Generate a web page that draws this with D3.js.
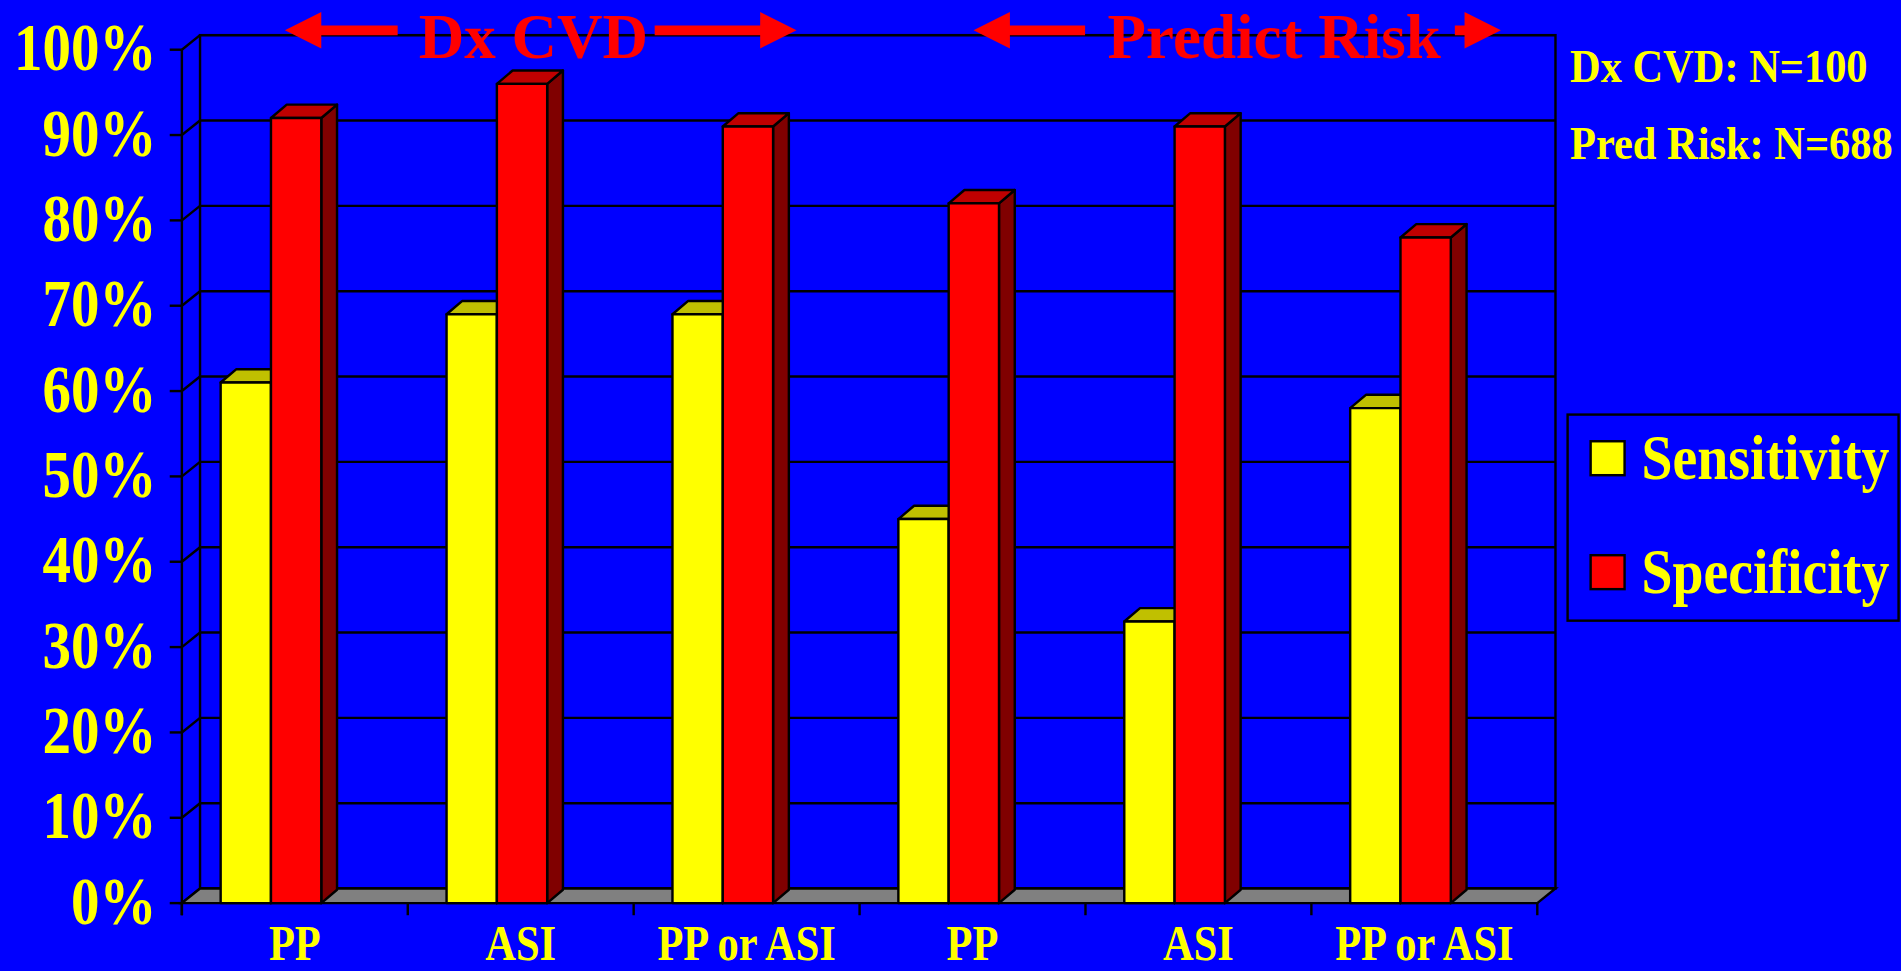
<!DOCTYPE html>
<html>
<head>
<meta charset="utf-8">
<script src="https://cdn.jsdelivr.net/npm/d3@7"></script>
<style>
  html, body {margin: 0; padding: 0; background: #0000ff; overflow: hidden;}
  svg {display: block;}
  text {font-family: "Liberation Serif", "Times New Roman", serif; font-weight: bold;}
</style>
</head>
<body>
<script>
const categories = ['PP', 'ASI', 'PP or ASI', 'PP', 'ASI', 'PP or ASI']
const sensitivity = [61, 69, 69, 45, 33, 58]
const specificity = [92, 96, 91, 82, 91, 78]
const yTicks = [0, 10, 20, 30, 40, 50, 60, 70, 80, 90, 100]
const seriesNames = ['Sensitivity', 'Specificity']
const sampleNotes = ['Dx CVD: N=100', 'Pred Risk: N=688']

// drawing is done in a 1568x801 box and stretched to the window
const W = 1568, H = 801
const svg = d3.select('body').append('svg')
  .attr('width', 1901).attr('height', 971)
  .attr('viewBox', `0 0 ${W} ${H}`)
  .attr('preserveAspectRatio', 'none')

svg.append('rect').attr('width', W).attr('height', H).attr('fill', '#0000ff')

// front plane scales, back wall is offset by (dx, dy)
const dx = 15, dy = -12
const x = d3.scaleBand().domain(d3.range(categories.length)).range([150, 1268]).padding(0)
const y = d3.scaleLinear().domain([0, 100]).range([745, 41])

const g = svg.append('g')

// back wall
g.append('rect')
  .attr('x', 150 + dx).attr('y', y(100) + dy)
  .attr('width', 1268 - 150).attr('height', y(0) - y(100))
  .attr('fill', '#0000ff').attr('stroke', '#000').attr('stroke-width', 2)

// gridlines on back wall + slanted lines on left wall
g.append('g').selectAll('line').data(yTicks).enter().append('line')
  .attr('x1', 150 + dx).attr('x2', 1268 + dx)
  .attr('y1', d => y(d) + dy).attr('y2', d => y(d) + dy)
  .attr('stroke', '#000').attr('stroke-width', 2)
g.append('g').selectAll('line').data(yTicks).enter().append('line')
  .attr('x1', 150).attr('x2', 150 + dx)
  .attr('y1', d => y(d)).attr('y2', d => y(d) + dy)
  .attr('stroke', '#000').attr('stroke-width', 2)

// floor
g.append('path')
  .attr('d', `M150,${y(0)} L1268,${y(0)} L${1268 + dx},${y(0) + dy} L${150 + dx},${y(0) + dy} Z`)
  .attr('fill', '#808080').attr('stroke', '#000').attr('stroke-width', 2)

// front y axis
g.append('line').attr('x1', 150).attr('x2', 150).attr('y1', y(100)).attr('y2', y(0) + 10)
  .attr('stroke', '#000').attr('stroke-width', 2)
g.append('g').selectAll('line').data(yTicks).enter().append('line')
  .attr('x1', 140).attr('x2', 150)
  .attr('y1', d => y(d)).attr('y2', d => y(d))
  .attr('stroke', '#000').attr('stroke-width', 2)
g.append('g').selectAll('text').data(yTicks).enter().append('text')
  .attr('transform', d => `translate(129,${y(d) + 17}) scale(1,1.2)`)
  .attr('text-anchor', 'end').attr('font-size', 47).attr('fill', '#ffff00')
  .text(d => d + '%')

// x axis ticks under the floor
const bounds = d3.range(categories.length + 1).map(i => 150 + i * x.bandwidth())
g.append('g').selectAll('line').data(bounds).enter().append('line')
  .attr('x1', d => d).attr('x2', d => d)
  .attr('y1', y(0)).attr('y2', y(0) + 10)
  .attr('stroke', '#000').attr('stroke-width', 2)
g.append('g').selectAll('text').data(categories).enter().append('text')
  .attr('transform', (d, i) => `translate(${x(i) + x.bandwidth() / 2},792) scale(1,1.2)`)
  .attr('text-anchor', 'middle').attr('font-size', 35).attr('fill', '#ffff00')
  .text(d => d)

// 3D bars
const bw = 41.5, bdx = 13, bdy = -11
const colors = [
  {front: '#ffff00', top: '#c0c000', side: '#808000'},
  {front: '#ff0000', top: '#c00000', side: '#800000'}
]
function bar(parent, x0, v, c) {
  const y0 = y(0), y1 = y(v)
  const b = parent.append('g').attr('stroke', '#000').attr('stroke-width', 2).attr('stroke-linejoin', 'round')
  b.append('path').attr('fill', c.side)
    .attr('d', `M${x0 + bw},${y0} L${x0 + bw},${y1} L${x0 + bw + bdx},${y1 + bdy} L${x0 + bw + bdx},${y0 + bdy} Z`)
  b.append('path').attr('fill', c.top)
    .attr('d', `M${x0},${y1} L${x0 + bdx},${y1 + bdy} L${x0 + bw + bdx},${y1 + bdy} L${x0 + bw},${y1} Z`)
  b.append('rect').attr('fill', c.front)
    .attr('x', x0).attr('y', y1).attr('width', bw).attr('height', y0 - y1)
}
const bars = g.append('g')
categories.forEach((cat, i) => {
  const x0 = x(i) + 32
  bar(bars, x0, sensitivity[i], colors[0])
  bar(bars, x0 + bw, specificity[i], colors[1])
})

// header arrows and labels
function arrow(x1, x2, cy) {
  // x1 = tip, x2 = tail end
  const dir = x2 > x1 ? 1 : -1
  const headLen = 30, headH = 15, shaft = 4
  const hx = x1 + dir * headLen
  svg.append('path').attr('fill', '#ff0000')
    .attr('d', `M${x1},${cy} L${hx},${cy - headH} L${hx},${cy - shaft} L${x2},${cy - shaft} L${x2},${cy + shaft} L${hx},${cy + shaft} L${hx},${cy + headH} Z`)
}
arrow(235, 328, 25)
arrow(657, 540, 25)
arrow(803, 895, 25)
arrow(1238, 1200, 25)
svg.append('text').attr('x', 440).attr('y', 48)
  .attr('text-anchor', 'middle').attr('font-size', 52).attr('fill', '#ff0000').text('Dx CVD')
svg.append('text').attr('x', 1051).attr('y', 48)
  .attr('text-anchor', 'middle').attr('font-size', 52).attr('fill', '#ff0000').text('Predict Risk')

// sample size notes
svg.append('g').selectAll('text').data(sampleNotes).enter().append('text')
  .attr('transform', (d, i) => `translate(1295,${68 + i * 63}) scale(1,1.1)`)
  .attr('font-size', 35).attr('fill', '#ffff00').text(d => d)

// legend
const lg = svg.append('g')
lg.append('rect').attr('x', 1293).attr('y', 342).attr('width', 273).attr('height', 170)
  .attr('fill', '#0000ff').attr('stroke', '#000').attr('stroke-width', 2)
const items = lg.selectAll('g.item').data(seriesNames).enter().append('g').attr('class', 'item')
items.append('rect').attr('x', 1312).attr('y', (d, i) => 364 + i * 94)
  .attr('width', 28).attr('height', 28)
  .attr('fill', (d, i) => colors[i].front).attr('stroke', '#000').attr('stroke-width', 2)
items.append('text').attr('transform', (d, i) => `translate(1354,${395 + i * 94}) scale(1,1.15)`)
  .attr('font-size', 46).attr('fill', '#ffff00').text(d => d)
</script>
</body>
</html>
